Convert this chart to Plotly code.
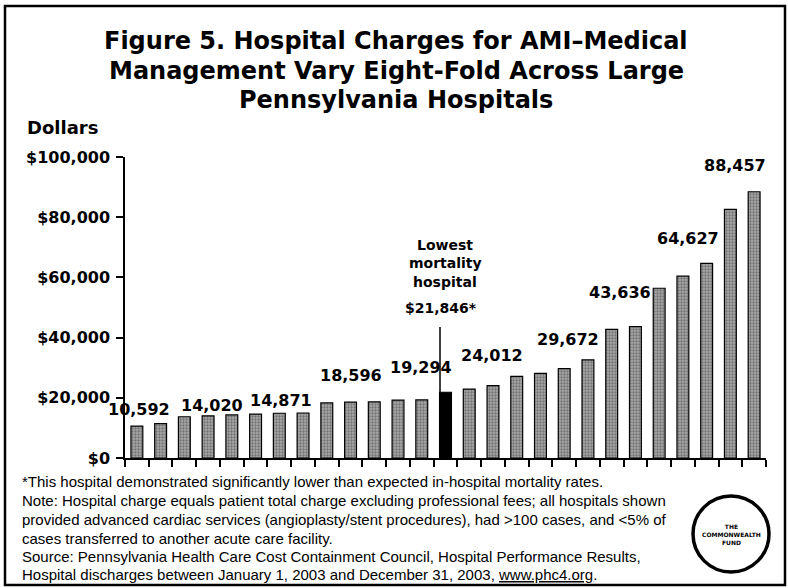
import plotly.graph_objects as go

# ---- data ----
hospital_index = list(range(27))
charges = [10592, 11400, 13700, 14020, 14300, 14600, 14871, 14950, 18300, 18596,
           18650, 19250, 19294, 21846, 22900, 24012, 27100, 28100, 29672, 32600,
           42700, 43636, 56400, 60400, 64627, 82600, 88457]
lowest_mortality_idx = 13
label_text = ["10,592", "14,020", "14,871", "18,596", "19,294", "24,012",
              "29,672", "43,636", "64,627", "88,457"]
ytick_vals = [0, 20000, 40000, 60000, 80000, 100000]
ytick_text = ["$0", "$20,000", "$40,000", "$60,000", "$80,000", "$100,000"]

title_lines = ["Figure 5. Hospital Charges for AMI\u2013Medical",
               "Management Vary Eight-Fold Across Large",
               "Pennsylvania Hospitals"]
footer_lines = [
    "*This hospital demonstrated significantly lower than expected in-hospital mortality rates.",
    "Note: Hospital charge equals patient total charge excluding professional fees; all hospitals shown",
    "provided advanced cardiac services (angioplasty/stent procedures), had >100 cases, and <5% of",
    "cases transferred to another acute care facility.",
    "Source: Pennsylvania Health Care Cost Containment Council, Hospital Performance Results,",
    "Hospital discharges between January 1, 2003 and December 31, 2003, <u>www.phc4.org</u>.",
]

# ---- layout geometry (pixels) ----
W, H = 788, 588
L, R, T, B = 125, 22, 157, 130
PW, PH = W - L - R, H - T - B

def px(x):
    return (x - L) / PW

def py(y):
    return (H - B - y) / PH

HEAVY = "DejaVu Sans"
REG = "Liberation Sans, Arial, sans-serif"

gray_x = [i for i in hospital_index if i != lowest_mortality_idx]
gray_y = [charges[i] for i in gray_x]

fig = go.Figure()
fig.add_trace(go.Bar(
    x=gray_x, y=gray_y, width=0.5,
    marker=dict(color="#9a9a9a", line=dict(color="black", width=1.2),
                pattern=dict(shape=".", fgcolor="#3c3c3c", bgcolor="#a8a8a8",
                             size=3, solidity=0.45)),
    showlegend=False, hoverinfo="skip"))
fig.add_trace(go.Bar(
    x=[lowest_mortality_idx], y=[charges[lowest_mortality_idx]], width=0.5,
    marker=dict(color="black", line=dict(color="black", width=1.2)),
    showlegend=False, hoverinfo="skip"))

# value labels (positions nudged as in the original)
label_pos = [(0.09, 15950), (3.16, 17600), (6.07, 19270), (9.02, 27570),
             (11.97, 30230), (14.96, 34220), (18.16, 39530), (20.35, 54820),
             (23.21, 73090), (25.19, 97340)]
ann = []
for (lx, ly), t in zip(label_pos, label_text):
    ann.append(dict(x=lx, y=ly, xref="x", yref="y", text="<b>%s</b>" % t, showarrow=False,
                    font=dict(family=HEAVY, size=16, color="black"),
                    xanchor="center", yanchor="middle"))

# lowest mortality annotation
for t, yy in [("Lowest", 245), ("mortality", 263), ("hospital", 282)]:
    ann.append(dict(x=px(445), y=py(yy), xref="paper", yref="paper", text="<b>%s</b>" % t,
                    showarrow=False, font=dict(family=HEAVY, size=14, color="black"),
                    xanchor="center", yanchor="middle"))
ann.append(dict(x=px(441), y=py(308), xref="paper", yref="paper",
                text="<b>$21,846*</b>", showarrow=False,
                font=dict(family=HEAVY, size=14, color="black"),
                xanchor="center", yanchor="middle"))

# title
for t, yy in zip(title_lines, [41, 71, 100]):
    ann.append(dict(x=px(396), y=py(yy), xref="paper", yref="paper", text="<b>%s</b>" % t,
                    showarrow=False, font=dict(family=HEAVY, size=24, color="black"),
                    xanchor="center", yanchor="middle"))
# Dollars
ann.append(dict(x=px(25), y=py(128), xref="paper", yref="paper", text="<b>Dollars</b>",
                showarrow=False, font=dict(family=HEAVY, size=18, color="black"),
                xanchor="left", yanchor="middle"))
# footer
for t, yy in zip(footer_lines, [481, 500, 519, 538, 556, 574]):
    ann.append(dict(x=px(20), y=py(yy), xref="paper", yref="paper", text=t,
                    showarrow=False, font=dict(family=REG, size=15, color="black"),
                    xanchor="left", yanchor="middle"))
# logo text
ann.append(dict(x=px(731), y=py(534), xref="paper", yref="paper",
                text="<b>THE<br>COMMONWEALTH<br>FUND</b>", showarrow=False,
                font=dict(family=HEAVY, size=6, color="black"),
                xanchor="center", yanchor="middle"))

shapes = [
    # pointer line for lowest mortality hospital
    dict(type="line", xref="paper", yref="paper", x0=px(440), x1=px(440),
         y0=py(327), y1=py(392), line=dict(color="black", width=1.5)),
    # logo circle
    dict(type="circle", xref="paper", yref="paper", x0=px(693), x1=px(769),
         y0=py(572), y1=py(496), line=dict(color="black", width=3.5)),
    # frame
    dict(type="rect", xref="paper", yref="paper", x0=px(5), x1=px(785),
         y0=py(585), y1=py(6), line=dict(color="black", width=2.5)),
]

fig.update_layout(
    width=W, height=H, margin=dict(l=L, r=R, t=T, b=B, pad=0),
    paper_bgcolor="white", plot_bgcolor="white",
    bargap=0.5, showlegend=False,
    annotations=ann, shapes=shapes,
    xaxis=dict(range=[-0.5, 26.5], showgrid=False, zeroline=False,
               showline=True, linecolor="black", linewidth=1.5,
               tickmode="array", tickvals=[i - 0.5 for i in range(28)],
               ticks="outside", ticklen=7, tickcolor="black", tickwidth=1.5,
               showticklabels=False),
    yaxis=dict(range=[0, 100000], showgrid=False, zeroline=False,
               showline=True, linecolor="black", linewidth=1.5,
               tickmode="array", tickvals=ytick_vals,
               ticktext=["<b>%s</b>" % t for t in ytick_text],
               ticks="outside", ticklen=7, tickcolor="black", tickwidth=1.5,
               tickfont=dict(family=HEAVY, size=16, color="black"),
               ticklabelstandoff=3),
)

fig.write_html("out.html", config={"displayModeBar": False},
               post_script="document.body.style.margin='0';document.body.style.overflow='hidden';")
